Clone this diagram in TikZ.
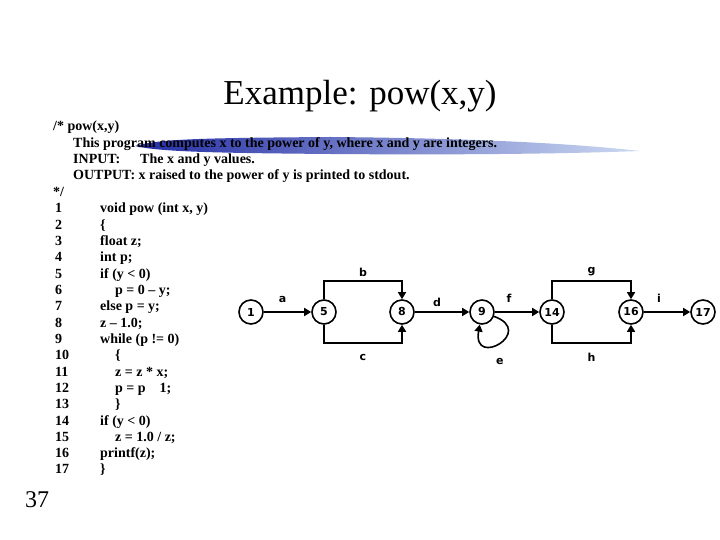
\documentclass[tikz,border=0pt]{standalone}
\usepackage{fontspec}
\setmainfont{Liberation Serif}
\newfontfamily\nodefont{DejaVu Sans}
\usetikzlibrary{arrows.meta,positioning}
\definecolor{brushdark}{RGB}{35,45,165}
\definecolor{brushlight}{RGB}{205,218,242}

\begin{document}
\begin{tikzpicture}[
  x=1pt, y=1pt,
  >={Triangle[length=7pt,width=8pt]},
  blk/.style={circle, draw, line width=1.6pt, minimum size=24pt, inner sep=0pt,
    font=\nodefont\bfseries\fontsize{11}{12}\selectfont},
  arc/.style={->, line width=1.6pt},
  lbl/.style={font=\nodefont\bfseries\fontsize{11}{12}\selectfont, inner sep=0pt},
  code/.style={anchor=base west, align=left, inner sep=0pt,
    font=\bfseries\fontsize{14}{16.33}\selectfont}
]
\useasboundingbox[fill=white] (0,0) rectangle (720,540);

% Titel und Pinselstrich
\node[anchor=base, font=\fontsize{35}{38}\selectfont] (title) at (360,435) {Example: pow(x,y)};
\shade[left color=brushdark, right color=brushlight]
  (135,394) .. controls (160,401) and (200,402) .. (330,403)
  .. controls (450,402) and (560,398) .. (640,389)
  .. controls (560,386) and (450,385) .. (330,386)
  .. controls (220,387) and (160,388) .. (135,394) -- cycle;

% Quelltext (Anker = Grundlinie der letzten Zeile)
\node[code] (head) at (53,343.7)
  {/* pow(x,y)\\
   \hspace*{20pt}This program computes x to the power of y, where x and y are integers.\\
   \hspace*{20pt}\makebox[67pt][l]{INPUT:}The x and y values.\\
   \hspace*{20pt}OUTPUT: x raised to the power of y is printed to stdout.\\
   */};
\node[code] (nums) at (55,66)
  {1\\ 2\\ 3\\ 4\\ 5\\ 6\\ 7\\ 8\\ 9\\ 10\\ 11\\ 12\\ 13\\ 14\\ 15\\ 16\\ 17};
\node[code] (src) at (100,66)
  {void pow (int x, y)\\
   \{\\
   float z;\\
   int p;\\
   if (y < 0)\\
   \hspace*{15pt}p = 0 -- y;\\
   else p = y;\\
   z -- 1.0;\\
   while (p != 0)\\
   \hspace*{15pt}\{\\
   \hspace*{15pt}z = z * x;\\
   \hspace*{15pt}p = p\hspace*{14pt}1;\\
   \hspace*{15pt}\}\\
   if (y < 0)\\
   \hspace*{15pt}z = 1.0 / z;\\
   printf(z);\\
   \}};
\node[anchor=base west, font=\fontsize{24}{26}\selectfont, inner sep=0pt] (page) at (25,32) {37};

% Kontrollflussgraph
\node[blk] (n1) at (251,228) {1};
\node[blk] (n5) at (324,228) {5};
\node[blk] (n8) at (402,228) {8};
\node[blk] (n9) at (482,228) {9};
\node[blk] (n14) at (552,228) {14};
\node[blk] (n16) at (631,228) {16};
\node[blk] (n17) at (703,228) {17};

\draw[arc] (n1) -- node[lbl, above=9pt, xshift=-5pt]{a} (n5);
\draw[arc] (n5.north) -- ++(0,18) -| node[lbl, pos=0.25, above=4pt]{b} (n8.north);
\draw[arc] (n5.south) -- ++(0,-18) -| node[lbl, pos=0.25, below=11pt]{c} (n8.south);
\draw[arc] (n8) -- node[lbl, above=5pt, xshift=-5pt]{d} (n9);
\draw[arc] (n9) to[out=-20, in=-100, looseness=7] coordinate[pos=0.5] (eloop) (n9);
\node[lbl, below=15pt of eloop] (elbl) {e};
\draw[arc] (n9) -- node[lbl, above=9pt, xshift=-8pt]{f} (n14);
\draw[arc] (n14.north) -- ++(0,18) -| node[lbl, pos=0.25, above=5pt]{g} (n16.north);
\draw[arc] (n14.south) -- ++(0,-18) -| node[lbl, pos=0.25, below=10pt]{h} (n16.south);
\draw[arc] (n16) -- node[lbl, above=9pt, xshift=-8pt]{i} (n17);
\end{tikzpicture}
\end{document}
